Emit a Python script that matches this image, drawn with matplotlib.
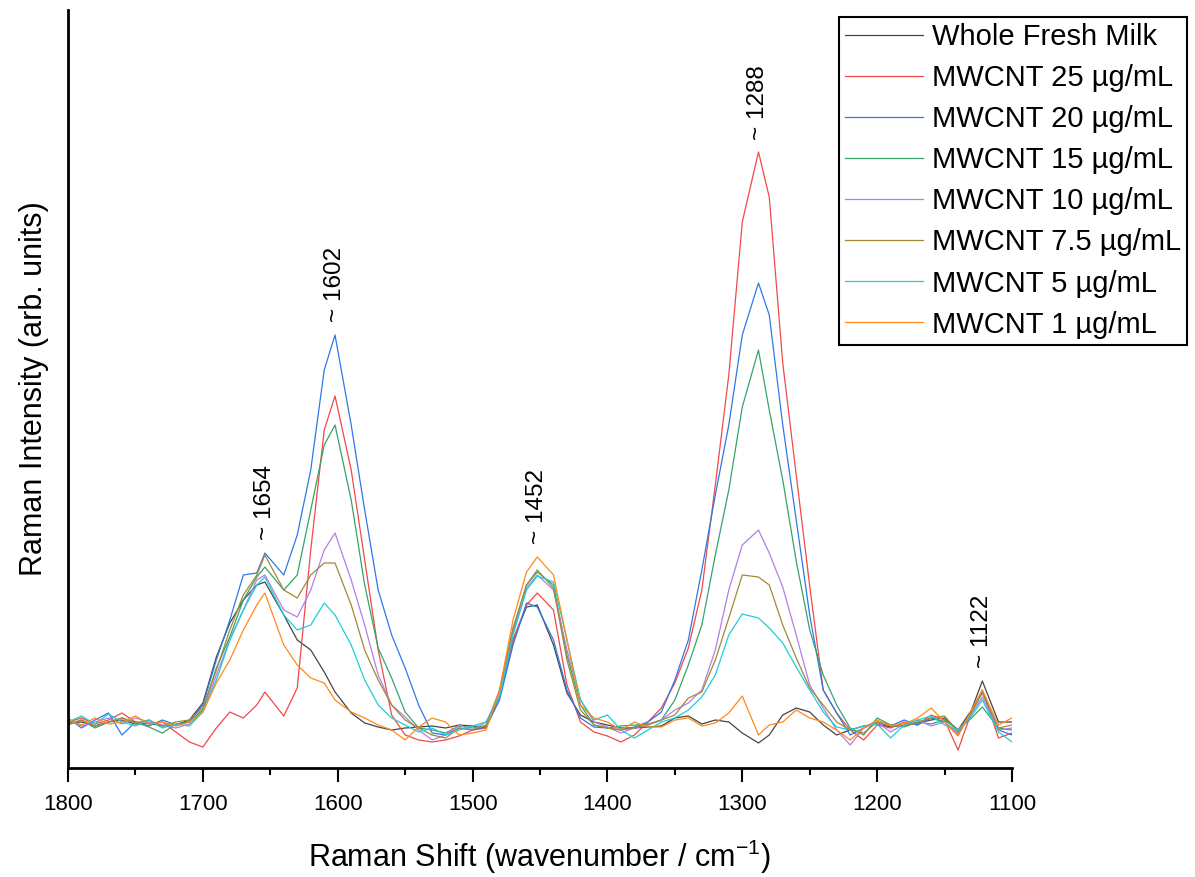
import matplotlib
matplotlib.use("Agg")
import matplotlib.pyplot as plt

plt.rcParams['font.family'] = ['Liberation Sans', 'DejaVu Sans']
plt.rcParams['mathtext.fontset'] = 'custom'
plt.rcParams['mathtext.rm'] = 'Liberation Sans'
plt.rcParams['mathtext.default'] = 'regular'

# Raman shift grid (cm-1)
shift = [1800, 1790, 1780, 1770, 1760, 1750, 1740, 1730, 1720, 1710,
         1700, 1690, 1680, 1670, 1660, 1654, 1640, 1630, 1620, 1610,
         1602, 1590, 1580, 1570, 1560, 1550, 1540, 1530, 1520, 1510,
         1500, 1490, 1480, 1470, 1460, 1452, 1440, 1430, 1420, 1410,
         1400, 1390, 1380, 1370, 1360, 1350, 1340, 1330, 1320, 1310,
         1300, 1288, 1280, 1270, 1260, 1250, 1240, 1230, 1220, 1210,
         1200, 1190, 1180, 1170, 1160, 1150, 1140, 1130, 1122, 1110, 1100]

# intensities (arb. units)
milk = [45, 46, 42, 46, 48, 44, 45, 42, 43, 48, 65, 111, 145, 168, 183, 186, 153, 128, 118, 96,
        76, 55, 45, 41, 38, 40, 41, 42, 40, 43, 42, 41, 71, 128, 161, 163, 123, 75, 53, 46,
        43, 40, 40, 41, 42, 50, 52, 44, 48, 46, 35, 25, 33, 53, 60, 56, 43, 33, 38, 42,
        44, 41, 43, 45, 48, 50, 38, 58, 87, 46, 46]
c25 = [46, 50, 44, 48, 55, 46, 44, 46, 36, 26, 21, 40, 56, 50, 63, 76, 52, 80, 218, 338,
       372, 298, 208, 118, 53, 33, 28, 26, 28, 32, 38, 40, 71, 128, 163, 175, 158, 83, 46, 36,
       32, 26, 33, 46, 60, 85, 120, 178, 283, 393, 546, 616, 571, 405, 293, 182, 78, 55, 38, 28,
       43, 40, 46, 43, 53, 48, 18, 56, 78, 30, 35]
c20 = [50, 40, 48, 55, 33, 46, 42, 48, 43, 46, 63, 108, 148, 193, 195, 215, 193, 233, 298, 398,
       433, 343, 258, 178, 133, 100, 63, 35, 33, 40, 38, 41, 68, 123, 165, 161, 128, 78, 50, 41,
       40, 38, 41, 46, 56, 88, 128, 198, 273, 343, 433, 485, 453, 343, 248, 153, 78, 55, 33, 40,
       46, 42, 48, 43, 50, 46, 33, 56, 76, 38, 33]
c15 = [43, 48, 40, 46, 50, 46, 41, 35, 44, 46, 58, 100, 131, 168, 191, 201, 178, 193, 258, 323,
       343, 268, 183, 120, 90, 56, 40, 38, 35, 42, 40, 42, 73, 138, 183, 196, 183, 113, 63, 43,
       40, 42, 43, 43, 48, 68, 103, 143, 213, 278, 361, 418, 358, 288, 207, 138, 93, 63, 40, 33,
       50, 43, 41, 46, 44, 48, 38, 50, 61, 40, 38]
c10 = [48, 42, 46, 50, 44, 50, 46, 43, 40, 44, 56, 93, 128, 158, 188, 193, 158, 151, 178, 218,
       235, 188, 143, 93, 63, 51, 38, 28, 33, 43, 38, 46, 73, 136, 180, 193, 178, 118, 68, 46,
       41, 35, 40, 43, 48, 58, 65, 78, 118, 178, 223, 238, 215, 181, 133, 83, 60, 38, 23, 40,
       46, 36, 44, 48, 42, 46, 35, 54, 71, 38, 40]
c7_5 = [44, 48, 42, 46, 50, 45, 48, 42, 46, 48, 60, 98, 138, 173, 193, 213, 178, 170, 193, 205,
        205, 163, 118, 88, 63, 48, 40, 33, 30, 40, 38, 43, 78, 140, 183, 198, 180, 108, 58, 43,
        40, 38, 40, 44, 48, 53, 70, 76, 108, 150, 193, 191, 183, 143, 110, 80, 63, 46, 38, 35,
        46, 43, 42, 46, 50, 52, 36, 56, 75, 40, 43]
c5 = [46, 52, 44, 54, 46, 42, 48, 40, 44, 42, 56, 88, 128, 158, 183, 191, 153, 138, 143, 165,
      153, 123, 88, 63, 50, 43, 36, 40, 33, 38, 42, 46, 71, 133, 178, 192, 186, 128, 68, 48,
      53, 38, 30, 38, 46, 50, 58, 71, 93, 133, 154, 150, 140, 125, 101, 78, 56, 41, 38, 42,
      44, 30, 43, 48, 52, 43, 38, 52, 68, 36, 26]
c1 = [48, 43, 50, 44, 46, 52, 44, 46, 42, 46, 56, 85, 108, 138, 163, 175, 123, 103, 90, 85,
      68, 56, 50, 43, 38, 28, 41, 50, 46, 33, 35, 38, 78, 148, 196, 211, 193, 128, 63, 50,
      46, 38, 46, 41, 41, 48, 50, 42, 45, 55, 72, 33, 43, 46, 58, 50, 46, 38, 28, 40,
      48, 42, 44, 50, 60, 46, 32, 58, 78, 43, 50]

series = [milk, c25, c20, c15, c10, c7_5, c5, c1]
labels = ['Whole Fresh Milk', 'MWCNT 25 \u00b5g/mL', 'MWCNT 20 \u00b5g/mL', 'MWCNT 15 \u00b5g/mL',
          'MWCNT 10 \u00b5g/mL', 'MWCNT 7.5 \u00b5g/mL', 'MWCNT 5 \u00b5g/mL', 'MWCNT 1 \u00b5g/mL']
colors = ['#454545', '#f24848', '#2f78e8', '#35a46a', '#b57ee6', '#a38838', '#1ccfd6', '#ff8a1a']

peak_pos = [1654, 1602, 1452, 1288, 1122]
peak_top = [215, 433, 211, 616, 87]

fig = plt.figure(figsize=(11.95, 8.77), dpi=100)
ax = fig.add_axes([68 / 1195, 1 - 768 / 877, (1012 - 68) / 1195, (768 - 10) / 877])

for y, lab, col in zip(series, labels, colors):
    ax.plot(shift, y, color=col, lw=0.9, label=lab)

for p, t in zip(peak_pos, peak_top):
    ax.annotate('~ %d' % p, xy=(p, t), xytext=(0, 9), textcoords='offset points',
                rotation=90, ha='center', va='bottom', fontsize=17.5)

ax.set_xlim(1800, 1100)
ax.set_ylim(0, 758)
ax.set_xticks(range(1800, 1099, -100))
ax.set_xticks(range(1750, 1100, -100), minor=True)
ax.set_yticks([])
ax.spines['top'].set_visible(False)
ax.spines['right'].set_visible(False)
ax.spines['left'].set_linewidth(2)
ax.spines['bottom'].set_linewidth(2)
ax.tick_params(axis='x', which='major', length=10, width=1.5, labelsize=16, pad=9)
ax.tick_params(axis='x', which='minor', length=5, width=1.5)
ax.set_xlabel('Raman Shift (wavenumber / cm$^{-1}$)', fontsize=22, labelpad=16)
ax.set_ylabel('Raman Intensity (arb. units)', fontsize=22, labelpad=14)

leg = ax.legend(loc='upper right', bbox_to_anchor=(1187 / 1195, 1 - 17 / 877),
                bbox_transform=fig.transFigure, borderaxespad=0, fontsize=21,
                fancybox=False, edgecolor='black', framealpha=1, handlelength=2.7,
                labelspacing=0.45, borderpad=0.2, handletextpad=0.3, handleheight=0.7)
leg.get_frame().set_linewidth(1.5)

fig.savefig('out.png', dpi=100)
